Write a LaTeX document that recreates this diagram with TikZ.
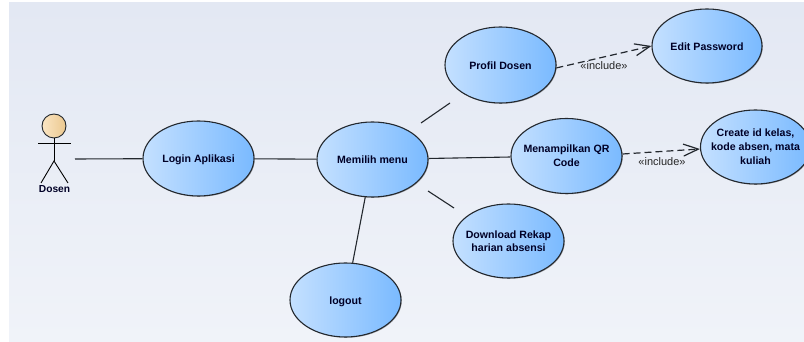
\documentclass[tikz,border=0pt]{standalone}
\usepackage{fontspec}
\setmainfont{Liberation Sans}
\usetikzlibrary{shapes.geometric,arrows.meta,shadows}
\definecolor{bgtop}{HTML}{E3E8F3}
\definecolor{bgbot}{HTML}{F0F3F9}
\definecolor{ucl}{HTML}{C4E0FF}
\definecolor{ucr}{HTML}{7ABAFF}
\definecolor{edge}{HTML}{23282E}
\definecolor{skinl}{HTML}{FBE6C4}
\definecolor{skinr}{HTML}{EBC88F}
\tikzset{
  usecase/.style={ellipse,draw=edge,line width=1.1pt,left color=ucl,right color=ucr,
    inner sep=-10pt,align=center,font=\fontsize{10.6}{14}\selectfont\bfseries,text=black!85!blue,
    drop shadow={shadow xshift=0.8pt,shadow yshift=-0.8pt,opacity=0.3,fill=black}},
  assoc/.style={draw=edge,line width=1.1pt},
  incl/.style={draw=edge,line width=1.2pt,dash pattern=on 7pt off 4pt,-{Straight Barb[length=15pt,width=12pt]}},
  stereo/.style={font=\fontsize{11}{13}\selectfont,text=black!85,inner sep=0pt},
  limb/.style={draw=black,line width=0.9pt}
}
\begin{document}
\begin{tikzpicture}[x=1pt,y=1pt]
\useasboundingbox (0,0) rectangle (804,342);
\clip (0,0) rectangle (804,342);
\fill[white] (0,0) rectangle (804,342);
\shade[top color=bgtop,bottom color=bgbot] (9,0) rectangle (804,339);
% use cases
\node[usecase,minimum width=111pt,minimum height=75pt] (login) at (198.5,183.5) {\raisebox{0pt}[8pt][0pt]{Login Aplikasi}};
\node[usecase,minimum width=111pt,minimum height=75pt] (menu) at (372.5,182.5) {Memilih menu};
\node[usecase,minimum width=111pt,minimum height=76pt] (profil) at (500.5,277) {\raisebox{0pt}[9.7pt][0pt]{Profil Dosen}};
\node[usecase,minimum width=110pt,minimum height=74pt] (edit) at (707,296) {\raisebox{0pt}[9.7pt][0pt]{Edit Password}};
\node[usecase,minimum width=111pt,minimum height=75pt] (qr) at (566.5,186) {Menampilkan QR\\Code};
\node[usecase,minimum width=110pt,minimum height=74pt] (create) at (755.5,195) {Create id kelas,\\kode absen, mata\\kuliah};
\node[usecase,minimum width=111pt,minimum height=74pt,font=\fontsize{10.6}{13.5}\selectfont\bfseries] (rekap) at (508.5,101) {Download Rekap\\harian absensi};
\node[usecase,minimum width=111pt,minimum height=74pt] (logout) at (345.5,42) {\raisebox{0pt}[9.7pt][0pt]{logout}};
% actor
\node[circle,draw=edge,line width=0.9pt,left color=skinl,right color=skinr,minimum size=24pt,inner sep=0pt] (head) at (54,216) {};
\coordinate (hip) at (54,181);
\coordinate (armL) at (38,199);
\coordinate (armR) at (71,199);
\coordinate (footL) at (41,159);
\coordinate (footR) at (68,159);
\draw[limb] (head.south) -- (hip);
\draw[limb] (armL) -- (armR);
\draw[limb] (footL) -- (hip) -- (footR);
\node[font=\fontsize{10.2}{12}\selectfont\bfseries,inner sep=0pt,text=black!85!blue] (dosen) at (54.5,153) {Dosen};
% free ends
\coordinate (actorEnd) at (75,183);
\coordinate (menuP) at (421,219);
\coordinate (profilP) at (450,239);
\coordinate (menuD) at (428,151);
\coordinate (rekapD) at (454,134);
% associations
\draw[assoc] (actorEnd) -- (login);
\draw[assoc] (login) -- (menu);
\draw[assoc] (menu) -- (qr);
\draw[assoc] (menu) -- (logout);
\draw[assoc] (menuP) -- (profilP);
\draw[assoc] (menuD) -- (rekapD);
% includes
\draw[incl] (profil.-3) -- (edit.west |- 0,296);
\draw[incl] (qr.east |- 0,188) -- (create.west |- 0,193);
\node[stereo] (l1) at (604,276) {«include»};
\node[stereo] (l2) at (662,180) {«include»};
\end{tikzpicture}
\end{document}
